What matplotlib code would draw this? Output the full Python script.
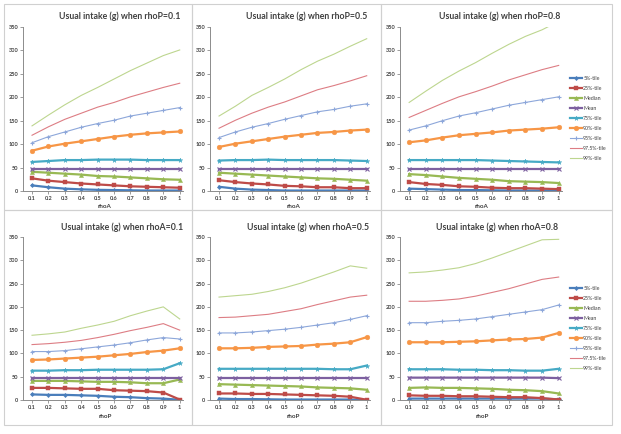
import matplotlib
matplotlib.use("Agg")
import matplotlib.pyplot as plt
from matplotlib.patches import Rectangle

x_labels = ["0.1", "0.2", "0.3", "0.4", "0.5", "0.6", "0.7", "0.8", "0.9", "1"]
series_names = ["5%-tile", "25%-tile", "Median", "Mean", "75%-tile",
                "90%-tile", "95%-tile", "97.5%-tile", "99%-tile"]
y_ticks = [0, 50, 100, 150, 200, 250, 300, 350]

titles = ["Usual intake (g) when rhoP=0.1", "Usual intake (g) when rhoP=0.5",
          "Usual intake (g) when rhoP=0.8", "Usual intake (g) when rhoA=0.1",
          "Usual intake (g) when rhoA=0.5", "Usual intake (g) when rhoA=0.8"]
xlabels = ["rhoA", "rhoA", "rhoA", "rhoP", "rhoP", "rhoP"]

# Panel 1: rhoP = 0.1
p1_5 = [12, 8, 5, 3.5, 2.5, 2, 1.5, 1, 1, 1]
p1_25 = [27, 22, 19, 16, 14, 12, 10, 9, 8, 7]
p1_med = [41, 39, 37, 35, 32, 31, 29, 27, 25, 24]
p1_mean = [48, 48, 48, 48, 48, 48, 48, 48, 48, 48]
p1_75 = [62, 64, 66, 66, 67, 67, 67, 66, 66, 66]
p1_90 = [86, 95, 101, 106, 111, 116, 120, 123, 125, 127]
p1_95 = [103, 116, 126, 136, 144, 151, 160, 166, 172, 178]
p1_975 = [119, 137, 153, 166, 179, 189, 201, 211, 221, 230]
p1_99 = [139, 162, 184, 204, 221, 239, 257, 273, 289, 301]

# Panel 2: rhoP = 0.5
p2_5 = [9, 5, 3, 2, 1, 1, 1, 1, 1, 1]
p2_25 = [23, 19, 16, 14, 11, 10, 8, 8, 6, 6]
p2_med = [39, 37, 35, 33, 31, 29, 27, 26, 24, 22]
p2_mean = [48, 48, 48, 48, 48, 48, 48, 48, 48, 48]
p2_75 = [65, 66, 66, 67, 66, 66, 66, 66, 65, 64]
p2_90 = [94, 101, 106, 111, 116, 120, 124, 126, 129, 131]
p2_95 = [114, 126, 136, 144, 153, 161, 169, 174, 181, 186]
p2_975 = [134, 151, 166, 179, 190, 203, 216, 225, 235, 246]
p2_99 = [160, 181, 204, 221, 239, 259, 277, 292, 309, 325]

# Panel 3: rhoP = 0.8
p3_5 = [5, 4, 3, 2, 2, 1.5, 1, 1, 1, 1]
p3_25 = [19, 15, 13, 10, 9, 7, 6, 6, 5, 4]
p3_med = [36, 34, 31, 28, 26, 24, 21, 20, 19, 17]
p3_mean = [48, 48, 48, 48, 48, 48, 48, 48, 48, 48]
p3_75 = [66, 66, 66, 66, 66, 65, 64, 63, 62, 61]
p3_90 = [104, 108, 114, 119, 122, 125, 129, 131, 133, 136]
p3_95 = [130, 139, 150, 160, 167, 175, 183, 189, 195, 201]
p3_975 = [157, 172, 187, 201, 212, 224, 237, 248, 259, 268]
p3_99 = [189, 213, 236, 256, 274, 294, 313, 330, 344, 362]

# Panel 4: rhoA = 0.1
p4_5 = [12, 11, 11, 10, 9, 7, 6, 4, 3, 0.5]
p4_25 = [26, 26, 25, 24, 24, 21, 20, 19, 16, 1]
p4_med = [41, 41, 41, 40, 39, 39, 38, 36, 36, 44]
p4_mean = [48, 48, 48, 48, 48, 48, 48, 48, 48, 48]
p4_75 = [63, 63, 64, 64, 65, 65, 65, 65, 66, 79]
p4_90 = [86, 87, 89, 91, 93, 96, 99, 103, 106, 111]
p4_95 = [104, 104, 106, 110, 114, 118, 123, 129, 134, 131]
p4_975 = [119, 121, 124, 128, 134, 141, 149, 156, 164, 150]
p4_99 = [139, 142, 146, 154, 161, 169, 181, 191, 200, 174]

# Panel 5: rhoA = 0.5
p5_5 = [3, 2, 2, 1.5, 1, 1, 1, 1, 1, 0]
p5_25 = [14, 14, 13, 13, 12, 11, 10, 9, 7, 0.5]
p5_med = [34, 33, 32, 31, 30, 29, 27, 26, 25, 22]
p5_mean = [48, 48, 48, 48, 48, 48, 48, 48, 48, 48]
p5_75 = [67, 67, 67, 67, 67, 67, 67, 66, 66, 74]
p5_90 = [111, 111, 112, 114, 115, 116, 119, 121, 124, 135]
p5_95 = [144, 144, 146, 149, 152, 156, 161, 166, 173, 181]
p5_975 = [177, 178, 181, 184, 190, 196, 205, 213, 221, 225]
p5_99 = [221, 224, 227, 233, 241, 251, 263, 275, 288, 283]

# Panel 6: rhoA = 0.8
p6_5 = [3, 3, 3, 3, 3, 3, 3, 3, 3, 1.5]
p6_25 = [10, 9, 9, 8, 8, 7, 6, 6, 4, 1]
p6_med = [26, 27, 26, 26, 25, 24, 22, 21, 19, 14]
p6_mean = [48, 48, 48, 48, 48, 48, 48, 48, 48, 47]
p6_75 = [66, 66, 66, 65, 65, 64, 64, 63, 63, 67]
p6_90 = [124, 124, 124, 125, 126, 128, 130, 131, 134, 144]
p6_95 = [166, 166, 169, 171, 174, 179, 184, 189, 194, 204]
p6_975 = [212, 212, 214, 217, 223, 231, 239, 249, 259, 264]
p6_99 = [273, 275, 279, 284, 293, 305, 318, 331, 344, 345]

panels = [
    [p1_5, p1_25, p1_med, p1_mean, p1_75, p1_90, p1_95, p1_975, p1_99],
    [p2_5, p2_25, p2_med, p2_mean, p2_75, p2_90, p2_95, p2_975, p2_99],
    [p3_5, p3_25, p3_med, p3_mean, p3_75, p3_90, p3_95, p3_975, p3_99],
    [p4_5, p4_25, p4_med, p4_mean, p4_75, p4_90, p4_95, p4_975, p4_99],
    [p5_5, p5_25, p5_med, p5_mean, p5_75, p5_90, p5_95, p5_975, p5_99],
    [p6_5, p6_25, p6_med, p6_mean, p6_75, p6_90, p6_95, p6_975, p6_99],
]

colors = ["#4A7EBB", "#BE4B48", "#98B954", "#7D60A0", "#46AAC5",
          "#F79646", "#8DA7DA", "#DD7D84", "#BDD68F"]
markers = ["D", "s", "^", "x", "*", "o", "+", None, None]
msizes = [2.2, 3.2, 3.0, 3.0, 3.5, 3.4, 3.0, 0, 0]
lws = [1.6, 1.6, 1.6, 1.6, 1.6, 1.6, 0.8, 0.8, 0.8]

plt.rcParams['font.family'] = ['Lato', 'DejaVu Sans']

W, H = 621, 434
fig = plt.figure(figsize=(W / 100, H / 100), dpi=100)


def rect(x0, x1, ytop, ybot):
    return [x0 / W, 1 - ybot / H, (x1 - x0) / W, (ybot - ytop) / H]


# chart frames
frame_color = "#D0D0D0"
for (fx0, fx1, fy0, fy1) in [(4, 192, 4, 210), (192, 381, 4, 210), (381, 612, 4, 210),
                             (4, 192, 210, 425), (192, 381, 210, 425), (381, 612, 210, 425)]:
    fig.patches.append(Rectangle((fx0 / W, 1 - fy1 / H), (fx1 - fx0) / W, (fy1 - fy0) / H,
                                 transform=fig.transFigure, fill=False,
                                 edgecolor=frame_color, linewidth=0.8))

axes_px = [(23, 183, 27, 191), (210, 370, 27, 191), (400, 562, 27, 191),
           (23, 183, 237, 400), (210, 370, 237, 400), (400, 562, 237, 400)]
title_px = [(120, 16), (307, 16), (500, 16), (122, 227), (308, 227), (497, 227)]
xlab_px = [(105, 207), (294, 207), (482, 207), (105, 417), (293, 417), (482, 417)]

xpos = list(range(1, len(x_labels) + 1))
axis_color = "#8C8C8C"
text_color = "#404040"

for i, (vals, apx) in enumerate(zip(panels, axes_px)):
    ax = fig.add_axes(rect(*apx))
    handles = []
    for k, v in enumerate(vals):
        h, = ax.plot(xpos, v, color=colors[k], lw=lws[k], marker=markers[k],
                     markersize=msizes[k], markeredgewidth=0.8 if markers[k] in ("x", "+") else 0.3,
                     markeredgecolor=colors[k], label=series_names[k])
        handles.append(h)
    ax.set_ylim(0, 350)
    ax.set_xlim(0.45, 10.2)
    ax.set_yticks(y_ticks)
    ax.set_xticks(xpos)
    ax.set_xticklabels(x_labels)
    for s in ["top", "right"]:
        ax.spines[s].set_visible(False)
    for s in ["left", "bottom"]:
        ax.spines[s].set_color(axis_color)
        ax.spines[s].set_linewidth(0.7)
    ax.tick_params(axis="both", labelsize=4, colors=axis_color, labelcolor=text_color,
                   length=2, width=0.6, pad=1.5)
    for lab in ax.get_xticklabels() + ax.get_yticklabels():
        lab.set_fontweight("bold")
    ax.set_facecolor("none")
    tx, ty = title_px[i]
    fig.text(tx / W, 1 - ty / H, titles[i], ha="center", va="center",
             fontsize=6.3, fontweight="bold", color=text_color)
    lx, ly = xlab_px[i]
    fig.text(lx / W, 1 - ly / H, xlabels[i], ha="center", va="center",
             fontsize=4.5, fontweight="bold", color=text_color)
    if i in (2, 5):
        top = 76 if i == 2 else 286
        leg = fig.legend(handles, series_names, loc="upper left",
                         bbox_to_anchor=(570 / W, 1 - top / H), frameon=False,
                         fontsize=3.8, handlelength=2.2, labelspacing=0.95,
                         borderaxespad=0, handletextpad=0.3, borderpad=0)
        for t in leg.get_texts():
            t.set_color(text_color)

fig.savefig("out.png", dpi=100, facecolor="white")
